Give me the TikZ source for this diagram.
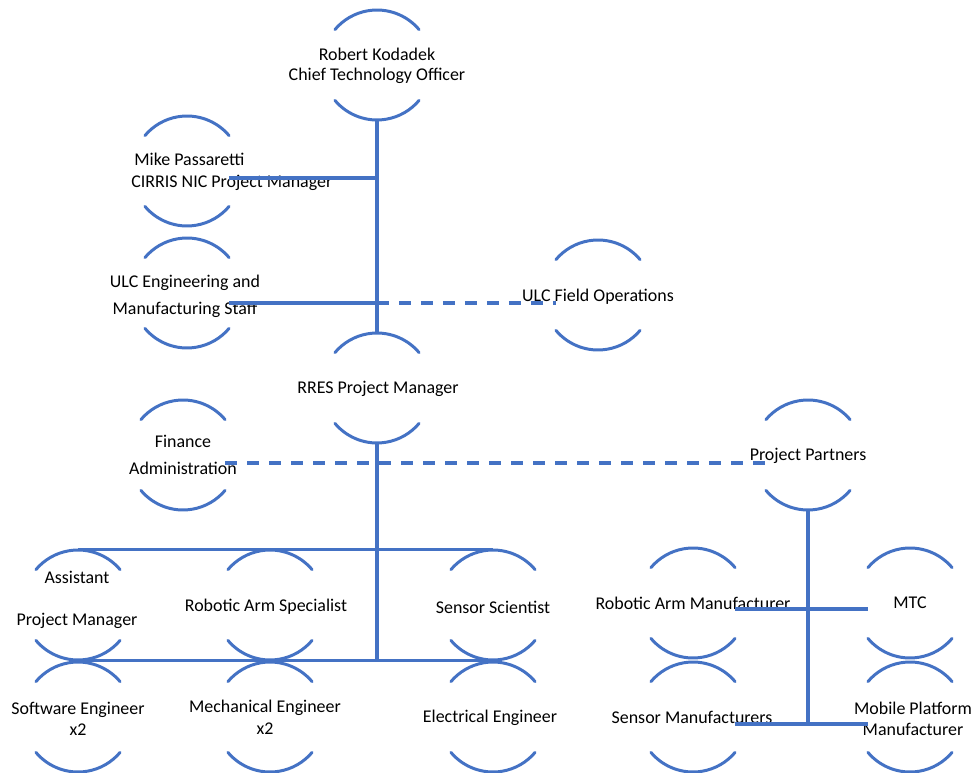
\documentclass[tikz,border=0pt]{standalone}
\usepackage{fontspec}
\setmainfont{Carlito}
\usetikzlibrary{calc}
\definecolor{orgblue}{RGB}{68,114,196}
\tikzset{
  ring/.style={rectangle,inner sep=0pt,minimum width=1.68cm,minimum height=2.2cm},
  ringline/.style={orgblue,line width=1.7pt,line cap=round},
  lbl/.style={align=center,inner sep=0pt,font=\fontsize{10.2}{12.3}\selectfont},
  link/.style={orgblue,line width=1.9pt},
  dashlink/.style={link,dash pattern=on 0.24cm off 0.2cm}
}
\begin{document}
\begin{tikzpicture}[x=0.02cm,y=-0.02cm]
\useasboundingbox (0,0) rectangle (976,773);
% upper part
\node[ring] (rk) at (377,65) {};
\node[lbl] (rk-t) at (377,66) {Robert Kodadek\\[-1pt]Chief Technology Officer};
\node[ring] (mp) at (187,171) {};
\node[lbl,anchor=west,align=left] (mp-t) at (131,172) {\,Mike Passaretti\\CIRRIS NIC Project Manager};
\node[ring] (ue) at (187,293) {};
\node[lbl] (ue-t) at (185,296) {ULC Engineering and\\[3pt]Manufacturing Staff};
\node[ring] (uf) at (598,295) {};
\node[lbl] (uf-t) at (598,297) {ULC Field Operations};
\node[ring] (rr) at (377,388) {};
\node[lbl] (rr-t) at (378,389) {RRES Project Manager};
\node[ring] (fa) at (183,455) {};
\node[lbl] (fa-t) at (183,455) {Finance\\[3pt]Administration};
\node[ring] (pp) at (808,455) {};
\node[lbl] (pp-t) at (808,456) {Project Partners};
% team
\node[ring] (ap) at (78,605) {};
\node[lbl] (ap-t) at (77,600) {Assistant\\[11.5pt]Project Manager};
\node[ring] (ras) at (270,605) {};
\node[lbl] (ras-t) at (266,607) {Robotic Arm Specialist};
\node[ring] (ss) at (493,605) {};
\node[lbl] (ss-t) at (493,607) {Sensor Scientist};
\node[ring] (se) at (78,717) {};
\node[lbl] (se-t) at (78,719) {Software Engineer\\x2};
\node[ring] (me) at (270,717) {};
\node[lbl] (me-t) at (265,717) {Mechanical Engineer\\x2};
\node[ring] (ee) at (493,717) {};
\node[lbl] (ee-t) at (490,718) {Electrical Engineer};
% partners
\node[ring] (ram) at (693,603) {};
\node[lbl] (ram-t) at (693,603) {Robotic Arm Manufacturer};
\node[ring] (mtc) at (910,603) {};
\node[lbl] (mtc-t) at (910,603) {MTC};
\node[ring] (sm) at (693,717) {};
\node[lbl] (sm-t) at (692,717) {Sensor Manufacturers};
\node[ring] (mpm) at (910,717) {};
\node[lbl] (mpm-t) at (913,719) {Mobile Platform\\Manufacturer};
% arcs round every box
\foreach \n in {rk,mp,ue,uf,rr,fa,pp,ap,ras,ss,se,me,ee,ram,mtc,sm,mpm}
  \draw[ringline] ([shift={(40:1.1cm)}]\n.center) arc (40:140:1.1cm)
                  ([shift={(220:1.1cm)}]\n.center) arc (220:320:1.1cm);
% lines
\coordinate (mp-l) at ($(mp.east)+(0,7)$);
\coordinate (ue-l) at ($(ue.east)+(0,10)$);
\coordinate (fa-l) at ($(fa.east)+(0,8)$);
\coordinate (ram-l) at ($(ram.east)+(0,6)$);
\coordinate (sm-l) at ($(sm.east)+(0,7)$);
\draw[link] (rk) -- (rr);
\draw[link] (mp-l) -- (mp-l -| rk);
\draw[link] (ue-l) -- (ue-l -| rk);
\draw[dashlink] (ue-l -| rk) -- (ue-l -| uf.west);
\draw[link] (rr) -- (rr |- ap.south);
\draw[link] (ap.north) -- (ss.north);
\draw[link] (ap.south) -- (ss.south);
\draw[dashlink] (fa-l) -- (fa-l -| pp.west);
\draw[link] (pp) -- (pp |- sm-l);
\draw[link] (ram-l) -- (ram-l -| mtc.west);
\draw[link] (sm-l) -- (sm-l -| mpm.west);
\end{tikzpicture}
\end{document}
